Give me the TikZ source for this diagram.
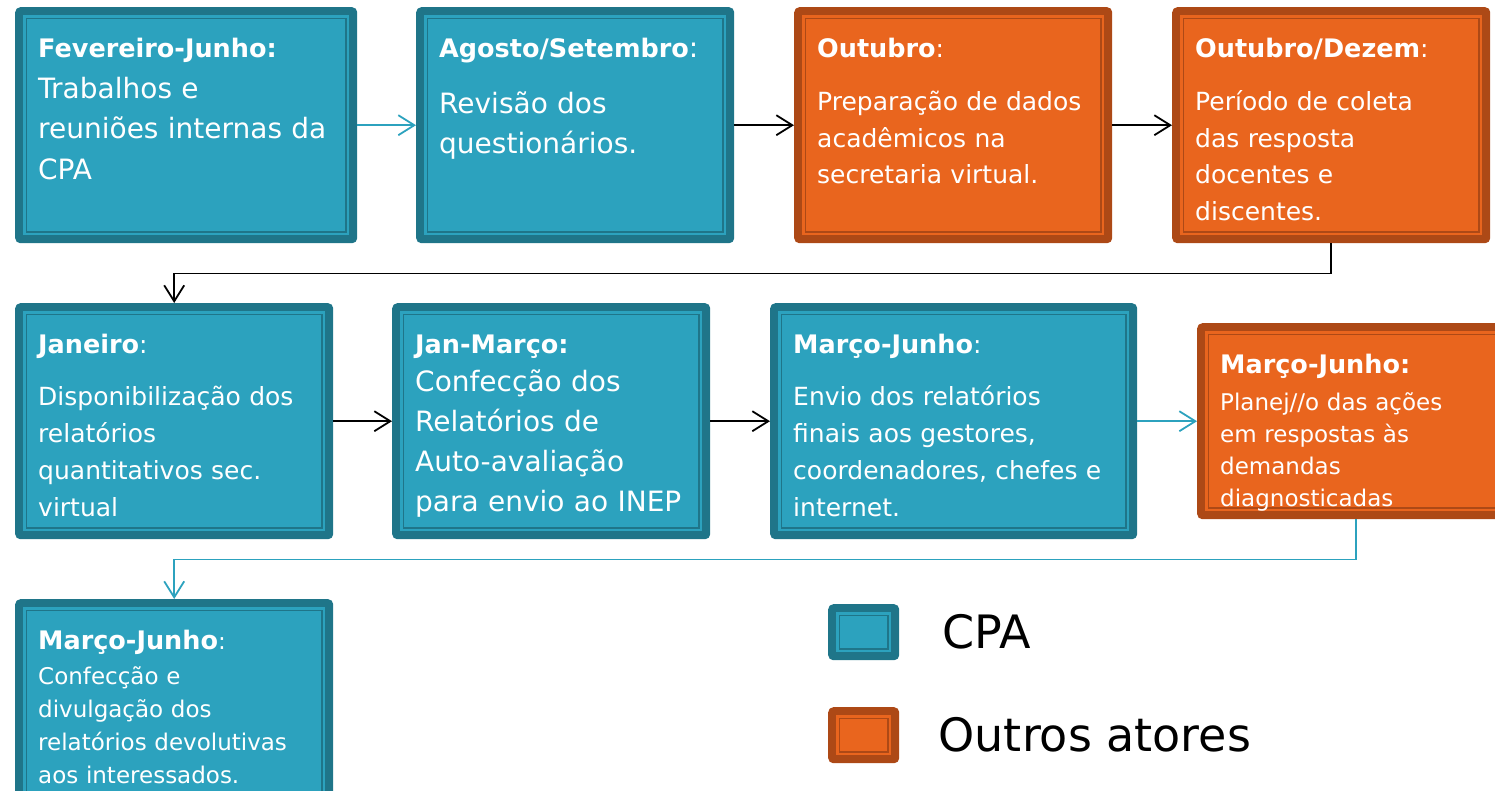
\documentclass[tikz,border=0pt]{standalone}
\usepackage{fontspec}
\setmainfont{DejaVu Sans}
\usetikzlibrary{arrows.meta,positioning}

\definecolor{cpafill}{RGB}{44,162,190}
\definecolor{cpadark}{RGB}{31,117,137}
\definecolor{outfill}{RGB}{233,101,30}
\definecolor{outdark}{RGB}{173,73,22}

\def\boxinset#1#2{%
  \fill[#1, sharp corners] ([shift={(8pt,-8pt)}]path picture bounding box.north west)
    rectangle ([shift={(-8pt,8pt)}]path picture bounding box.south east);
  \draw[#2, sharp corners, line width=1.6pt] ([shift={(11.3pt,-11.3pt)}]path picture bounding box.north west)
    rectangle ([shift={(-11.3pt,11.3pt)}]path picture bounding box.south east);}
\def\hd#1{{\fontsize{25.5}{25.5}\selectfont\bfseries #1}}

\begin{document}
\begin{tikzpicture}[x=1pt,y=-1pt,>={Straight Barb[length=16pt,width=20pt]}]
  \tikzstyle{box}=[rectangle, rounded corners=5pt, anchor=north west, inner xsep=23pt, inner ysep=0pt, align=left, text=white, text height=50.5pt]
  \tikzstyle{key}=[rectangle, rounded corners=5pt, anchor=north west, minimum width=71pt, minimum height=56pt, inner sep=0pt]
  \tikzstyle{cpa}=[fill=cpadark, path picture={\boxinset{cpafill}{cpadark}}]
  \tikzstyle{outros}=[fill=outdark, path picture={\boxinset{outfill}{outdark}}]
  \tikzstyle{link}=[->, line width=1.8pt, draw=black]

  \clip (0,0) rectangle (1495,790);

  % linha 1
  \node[box, cpa, text width=296pt, text depth=185.5pt, font=\fontsize{28}{40.5}\selectfont] (fev) at (15,7)
    {\hd{Fevereiro-Junho:}\\Trabalhos e\\reuniões internas da\\CPA};
  \node[box, cpa, text width=272pt, text depth=185.5pt, font=\fontsize{28}{40}\selectfont] (ago) at (416,7)
    {\hd{Agosto/Setembro}:\\[16pt]Revisão dos\\questionários.};
  \node[box, outros, text width=272pt, text depth=185.5pt, font=\fontsize{25}{36.5}\selectfont] (out) at (794,7)
    {\hd{Outubro}:\\[16.5pt]Preparação de dados\\acadêmicos na\\secretaria virtual.};
  \node[box, outros, text width=272pt, text depth=185.5pt, font=\fontsize{25}{36.5}\selectfont] (dez) at (1172,7)
    {\hd{Outubro/Dezem}:\\[16.5pt]Período de coleta\\das resposta\\docentes e\\discentes.};

  % linha 2
  \node[box, cpa, text width=272pt, text depth=185.5pt, font=\fontsize{25}{37}\selectfont] (jan) at (15,303)
    {\hd{Janeiro}:\\[15pt]Disponibilização dos\\relatórios\\quantitativos sec.\\virtual};
  \node[box, cpa, text width=272pt, text depth=185.5pt, font=\fontsize{28}{40}\selectfont] (conf) at (392,303)
    {\hd{Jan-Março:}\\[-2pt]Confecção dos\\Relatórios de\\Auto-avaliação\\para envio ao INEP};
  \node[box, cpa, text width=321pt, text depth=185.5pt, font=\fontsize{25}{37}\selectfont] (envio) at (770,303)
    {\hd{Março-Junho}:\\[15pt]Envio dos relatórios\\finais aos gestores,\\coordenadores, chefes e\\internet.};
  \node[box, outros, text width=272pt, text depth=145.5pt, font=\fontsize{23}{32}\selectfont] (plan) at (1197,323)
    {\hd{Março-Junho:}\\[5pt]Planej//o das ações\\em respostas às\\demandas\\diagnosticadas};

  % linha 3
  \node[box, cpa, text width=272pt, text depth=185.5pt, font=\fontsize{23}{33}\selectfont] (divul) at (15,599)
    {\hd{Março-Junho}:\\[2pt]Confecção e\\divulgação dos\\relatórios devolutivas\\aos interessados.};

  % legenda
  \node[key, cpa] (keycpa) at (828,604) {};
  \node[key, outros] (keyout) at (828,707) {};
  \node[right=43pt of keycpa, inner sep=0pt, font=\fontsize{46}{46}\selectfont] (labcpa) {CPA};
  \node[right=39pt of keyout, inner sep=0pt, font=\fontsize{46}{46}\selectfont] (labout) {Outros atores};

  % setas
  \draw[link, cpafill] (fev) -- (ago);
  \foreach \from/\to in {ago/out, out/dez, jan/conf, conf/envio}
    \draw[link] (\from) -- (\to);
  \draw[link, cpafill] (envio) -- (plan);
  \draw[link] (dez.south) -- ++(0,30) -| (jan.north);
  \draw[link, cpafill] (plan.south) -- ++(0,40) -| (divul.north);

\end{tikzpicture}
\end{document}
